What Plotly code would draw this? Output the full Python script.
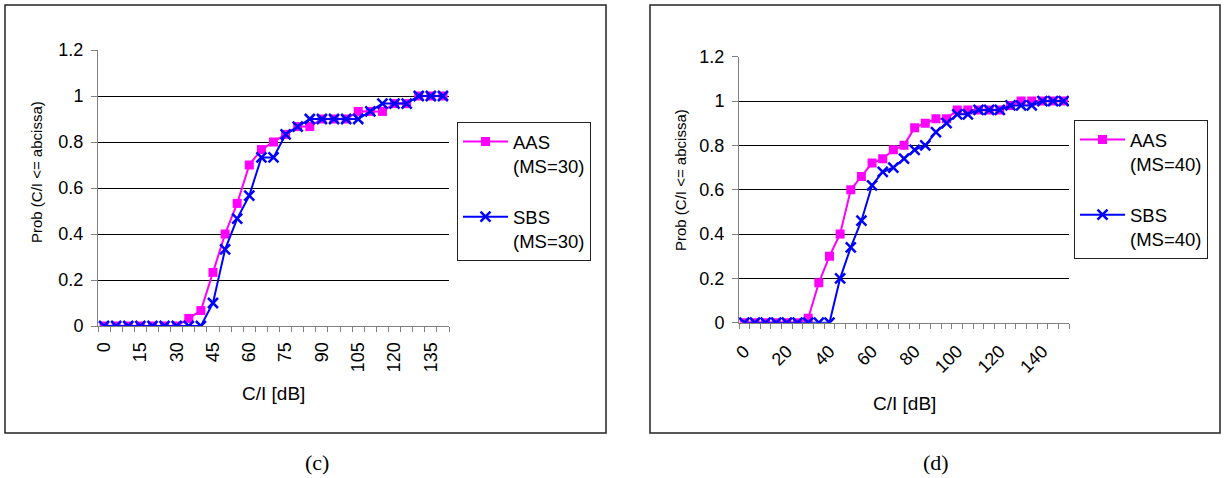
import plotly.graph_objects as go

W, H = 1225, 478

# ---------------- data ----------------
ci_c = list(range(0, 145, 5))          # 0..140 dB (29 categories)
aas_c = [0, 0, 0, 0, 0, 0, 0, 0.033, 0.067, 0.233, 0.4, 0.533, 0.7, 0.767, 0.8,
         0.833, 0.867, 0.867, 0.9, 0.9, 0.9, 0.933, 0.933, 0.933, 0.967, 0.967,
         1.0, 1.0, 1.0]
sbs_c = [0, 0, 0, 0, 0, 0, 0, 0, 0, 0.1, 0.333, 0.467, 0.567, 0.733, 0.733,
         0.833, 0.867, 0.9, 0.9, 0.9, 0.9, 0.9, 0.933, 0.967, 0.967, 0.967,
         1.0, 1.0, 1.0]

ci_d = list(range(0, 155, 5))          # 0..150 dB (31 categories)
aas_d = [0, 0, 0, 0, 0, 0, 0.02, 0.18, 0.30, 0.40, 0.60, 0.66, 0.72, 0.74, 0.78,
         0.80, 0.88, 0.90, 0.92, 0.92, 0.96, 0.96, 0.96, 0.96, 0.96, 0.98, 1.0,
         1.0, 1.0, 1.0, 1.0]
sbs_d = [0, 0, 0, 0, 0, 0, 0, 0, 0, 0.20, 0.34, 0.46, 0.62, 0.68, 0.70, 0.74,
         0.78, 0.80, 0.86, 0.90, 0.94, 0.94, 0.96, 0.96, 0.96, 0.98, 0.98, 0.98,
         1.0, 1.0, 1.0]

names_c = ["AAS<br>(MS=30)", "SBS<br>(MS=30)"]
names_d = ["AAS<br>(MS=40)", "SBS<br>(MS=40)"]
y_title = "Prob (C/I <= abcissa)"
x_title = "C/I [dB]"
captions = ["(c)", "(d)"]

PINK = "#FF00FF"
BLUE = "#0000FF"
SANS = "Liberation Sans, Arial, sans-serif"
SERIF = "Liberation Serif, Times New Roman, serif"

def px(x):
    return x / W

def py(y):
    return 1 - y / H

fig = go.Figure()

def add_pair(xs, a, b, names, xa, ya, leg):
    fig.add_trace(go.Scatter(
        x=xs, y=a, name=names[0], mode="lines+markers", xaxis=xa, yaxis=ya,
        legend=leg, legendgroup=leg + "a",
        line=dict(color=PINK, width=2),
        marker=dict(symbol="square", size=9, color=PINK)))
    fig.add_trace(go.Scatter(
        x=xs, y=b, name=names[1], mode="lines+markers", xaxis=xa, yaxis=ya,
        legend=leg, legendgroup=leg + "b",
        line=dict(color=BLUE, width=2),
        marker=dict(symbol="x-thin", size=10, color=BLUE,
                    line=dict(color=BLUE, width=2.5))))

add_pair(ci_c, aas_c, sbs_c, names_c, "x", "y", "legend")
add_pair(ci_d, aas_d, sbs_d, names_d, "x2", "y2", "legend2")

tickfont = dict(family=SANS, size=18, color="black")

def xaxis(domain, rng, dtick, angle, standoff):
    return dict(domain=domain, range=rng, tick0=0, dtick=dtick,
                tickangle=angle, ticks="", showgrid=False, zeroline=False,
                showline=True, linecolor="#808080", linewidth=1,
                tickfont=tickfont, automargin=False, ticklabelstandoff=standoff,
                minor=dict(tick0=2.5, dtick=5, ticks="outside", ticklen=5,
                           tickcolor="#808080", tickwidth=1, showgrid=False))

def yaxis(domain, anchor):
    return dict(domain=domain, range=[0, 1.2], dtick=0.2, anchor=anchor,
                ticks="outside", ticklen=6, tickcolor="#808080",
                showgrid=True, gridcolor="black", gridwidth=1,
                zeroline=False, showline=True, linecolor="#808080",
                linewidth=1, tickfont=tickfont, automargin=False,
                ticklabelstandoff=4)

legfont = dict(family=SANS, size=18.5, color="black")

fig.update_layout(
    template="none",
    width=W, height=H, margin=dict(l=0, r=0, t=0, b=0, autoexpand=False),
    paper_bgcolor="white", plot_bgcolor="white",
    xaxis=dict(anchor="y", **xaxis([px(98), px(449)], [-2.5, 142.5], 15, -90, 8)),
    yaxis=yaxis([py(326), py(50)], "x"),
    xaxis2=dict(anchor="y2", **xaxis([px(739), px(1069)], [-2.5, 152.5], 20, -45, 10)),
    yaxis2=yaxis([py(322.7), py(56.7)], "x2"),
    legend=dict(x=px(457), y=py(122), xanchor="left", yanchor="top",
                bordercolor="#222", borderwidth=1, bgcolor="white",
                font=legfont, itemwidth=45,
                valign="top", tracegroupgap=24),
    legend2=dict(x=px(1074), y=py(120), xanchor="left", yanchor="top",
                 bordercolor="#222", borderwidth=1, bgcolor="white",
                 font=legfont, itemwidth=45,
                 valign="top", tracegroupgap=24),
    showlegend=True,
)

# panel frames
for x0, x1 in [(5, 606), (650, 1220)]:
    fig.add_shape(type="rect", xref="paper", yref="paper",
                  x0=px(x0), x1=px(x1), y0=py(433), y1=py(5),
                  line=dict(color="#222", width=1.5), fillcolor="rgba(0,0,0,0)")

# axis titles and captions
ann = []
for cx, cy in [(273.5, 393), (904, 403)]:
    ann.append(dict(x=px(cx), y=py(cy), xref="paper", yref="paper", text=x_title,
                    showarrow=False, font=dict(family=SANS, size=19, color="black"),
                    xanchor="center", yanchor="middle"))
for cx, cy in [(37, 172), (680, 180)]:
    ann.append(dict(x=px(cx), y=py(cy), xref="paper", yref="paper", text=y_title,
                    showarrow=False, textangle=-90,
                    font=dict(family=SANS, size=15, color="black"),
                    xanchor="center", yanchor="middle"))
for cap, cx in zip(captions, [317, 936]):
    ann.append(dict(x=px(cx), y=py(462), xref="paper", yref="paper", text=cap,
                    showarrow=False, font=dict(family=SERIF, size=22, color="black"),
                    xanchor="center", yanchor="middle"))
fig.update_layout(annotations=ann)

fig.write_html("out.html", config={"displayModeBar": False},
               post_script="document.body.style.margin='0';document.body.style.overflow='hidden';")
